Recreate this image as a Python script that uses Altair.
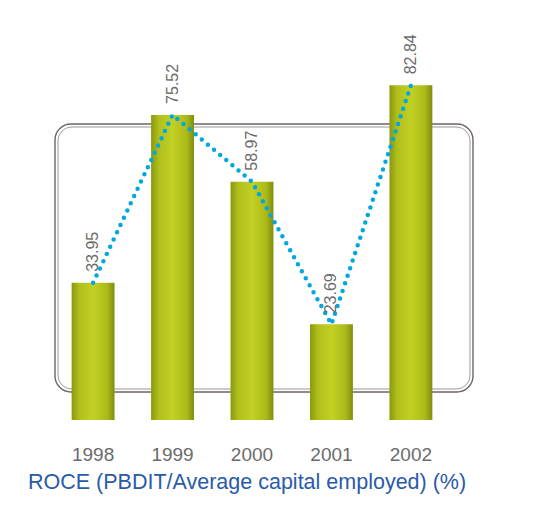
import altair as alt
import pandas as pd

years = ["1998", "1999", "2000", "2001", "2002"]
roce = [33.95, 75.52, 58.97, 23.69, 82.84]
labels = ["33.95", "75.52", "58.97", "23.69", "82.84"]

df = pd.DataFrame({"year": years, "roce": roce, "label": labels})

FONT = "Liberation Sans"

x_enc = alt.X(
    "year:N",
    sort=years,
    scale=alt.Scale(paddingInner=0.46, paddingOuter=0.65),
    axis=alt.Axis(
        title=None, labelAngle=0, domain=False, ticks=False, grid=False,
        labelPadding=25, labelFont=FONT, labelFontSize=19, labelColor="#6b6b6b",
    ),
)
y_enc = alt.Y("roce:Q", scale=alt.Scale(domain=[0, 100]), axis=None)

frame_df = pd.DataFrame({"f": [0]})
frame1 = alt.Chart(frame_df).mark_rect(
    filled=False, stroke="#6e6464", strokeWidth=1.4, cornerRadius=16
).encode(x=alt.value(35), x2=alt.value(453), y=alt.value(108), y2=alt.value(376))
frame2 = alt.Chart(frame_df).mark_rect(
    filled=False, stroke="#a09696", strokeWidth=1.0, cornerRadius=14
).encode(x=alt.value(38), x2=alt.value(450), y=alt.value(111), y2=alt.value(373))

grad = alt.Gradient(
    gradient="linear",
    stops=[
        alt.GradientStop(color="#8a980f", offset=0),
        alt.GradientStop(color="#b0bf1c", offset=0.18),
        alt.GradientStop(color="#c2d024", offset=0.5),
        alt.GradientStop(color="#adbb1a", offset=0.82),
        alt.GradientStop(color="#818e0e", offset=1),
    ],
    x1=0, x2=1, y1=0, y2=0,
)

bars = alt.Chart(df).mark_bar(color=grad).encode(x=x_enc, y=y_enc)

line = alt.Chart(df).mark_line(
    color="#00a8e0", strokeWidth=4.5, strokeDash=[0, 8], strokeCap="round"
).encode(x=x_enc, y=y_enc)

text = alt.Chart(df).mark_text(
    angle=270, align="left", baseline="middle", dx=11,
    font=FONT, fontSize=16, color="#6b6b6b",
).encode(x=x_enc, y=y_enc, text="label:N")

chart = alt.layer(frame1, frame2, bars, line, text).properties(
    width=464,
    height=404,
    background="white",
    padding={"left": 12, "top": 8, "right": 0, "bottom": 0},
    title=alt.TitleParams(
        "ROCE (PBDIT/Average capital employed) (%)",
        orient="bottom", anchor="start", dx=8, offset=8,
        font=FONT, fontSize=21.5, fontWeight="normal", color="#2a5ba8",
    ),
).configure_view(strokeWidth=0)

chart.save("out.html", embed_options={"renderer": "svg", "actions": False})
